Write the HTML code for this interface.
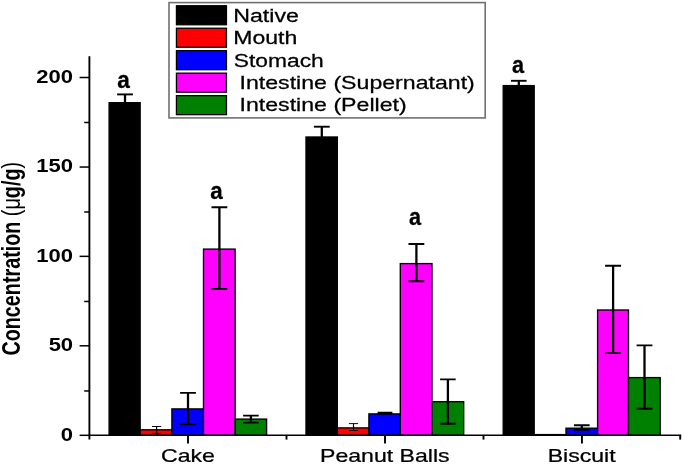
<!DOCTYPE html>
<html><head><meta charset="utf-8"><style>
html,body{margin:0;padding:0;background:#fff;width:685px;height:467px;overflow:hidden}
svg{display:block;will-change:transform;font-family:"Liberation Sans",sans-serif}
</style></head><body>
<svg width="685" height="467" viewBox="0 0 685 467">
<rect width="685" height="467" fill="#fff"/>
<rect x="169.0" y="2.6" width="316.2" height="115.3" fill="none" stroke="#707070" stroke-width="1.6"/>
<rect x="176.45" y="5.75" width="50" height="19" fill="#000000" stroke="#000" stroke-width="1.3"/>
<rect x="176.45" y="28.23" width="50" height="19" fill="#ff0000" stroke="#000" stroke-width="1.3"/>
<rect x="176.45" y="50.7" width="50" height="19" fill="#0000ff" stroke="#000" stroke-width="1.3"/>
<rect x="176.45" y="73.18" width="50" height="19" fill="#ff00ff" stroke="#000" stroke-width="1.3"/>
<rect x="176.45" y="95.65" width="50" height="19" fill="#008000" stroke="#000" stroke-width="1.3"/>
<text transform="translate(233.25,21.7) scale(1.287,1.0)" font-size="18" font-weight="normal" stroke="#000" stroke-width="0.25">Native</text>
<text transform="translate(233.26,43.95) scale(1.28,1.0)" font-size="18" font-weight="normal" stroke="#000" stroke-width="0.25">Mouth</text>
<text transform="translate(233.77,66.8) scale(1.268,1.0)" font-size="18" font-weight="normal" stroke="#000" stroke-width="0.25">Stomach</text>
<text transform="translate(239.52,88.75) scale(1.286,1.0)" font-size="18" font-weight="normal" stroke="#000" stroke-width="0.25">Intestine (Supernatant)</text>
<text transform="translate(239.52,111.1) scale(1.286,1.0)" font-size="18" font-weight="normal" stroke="#000" stroke-width="0.25">Intestine (Pellet)</text>
<rect x="109.1" y="102.7" width="31.05" height="332.6" fill="#000000" stroke="#000" stroke-width="1.35"/>
<rect x="140.15" y="429.8" width="31.75" height="5.5" fill="#ff0000" stroke="#000" stroke-width="1.35"/>
<rect x="171.9" y="408.9" width="31.6" height="26.4" fill="#0000ff" stroke="#000" stroke-width="1.35"/>
<rect x="203.5" y="249.1" width="31.6" height="186.2" fill="#ff00ff" stroke="#000" stroke-width="1.35"/>
<rect x="235.1" y="419.1" width="31.5" height="16.2" fill="#008000" stroke="#000" stroke-width="1.35"/>
<path d="M125 94.4V114.4" stroke="#000" stroke-width="2.28" fill="none"/>
<path d="M117.1 94.4H132.9" stroke="#000" stroke-width="1.9" fill="none"/>
<path d="M156.6 426.5V433.4" stroke="#000" stroke-width="1.14" fill="none"/>
<path d="M152 426.5H161.2M152 433.4H161.2" stroke="#000" stroke-width="0.95" fill="none"/>
<path d="M188 392.9V424.2" stroke="#000" stroke-width="2.28" fill="none"/>
<path d="M180.1 392.9H195.9M180.1 424.2H195.9" stroke="#000" stroke-width="1.9" fill="none"/>
<path d="M219.4 207.2V288.9" stroke="#000" stroke-width="2.28" fill="none"/>
<path d="M211.5 207.2H227.3M211.5 288.9H227.3" stroke="#000" stroke-width="1.9" fill="none"/>
<path d="M250.9 415.6V422.6" stroke="#000" stroke-width="2.28" fill="none"/>
<path d="M243.1 415.6H258.7M243.1 422.6H258.7" stroke="#000" stroke-width="1.9" fill="none"/>
<rect x="306" y="137" width="31.3" height="298.3" fill="#000000" stroke="#000" stroke-width="1.35"/>
<rect x="337.3" y="427.9" width="31.6" height="7.4" fill="#ff0000" stroke="#000" stroke-width="1.35"/>
<rect x="368.9" y="413.9" width="31.4" height="21.4" fill="#0000ff" stroke="#000" stroke-width="1.35"/>
<rect x="400.3" y="263.6" width="31.7" height="171.7" fill="#ff00ff" stroke="#000" stroke-width="1.35"/>
<rect x="432" y="401.7" width="31.7" height="33.6" fill="#008000" stroke="#000" stroke-width="1.35"/>
<path d="M321.8 126.7V146.7" stroke="#000" stroke-width="2.28" fill="none"/>
<path d="M313.9 126.7H329.7" stroke="#000" stroke-width="1.9" fill="none"/>
<path d="M353.5 423.6V430.5" stroke="#000" stroke-width="1.14" fill="none"/>
<path d="M348.9 423.6H358.1M348.9 430.5H358.1" stroke="#000" stroke-width="0.95" fill="none"/>
<path d="M385 412.6V413.6" stroke="#000" stroke-width="2.28" fill="none"/>
<path d="M377.6 412.6H392.4M377.6 413.6H392.4" stroke="#000" stroke-width="1.9" fill="none"/>
<path d="M416.4 244V281.2" stroke="#000" stroke-width="2.28" fill="none"/>
<path d="M408.5 244H424.3M408.5 281.2H424.3" stroke="#000" stroke-width="1.9" fill="none"/>
<path d="M447.9 379.4V423.8" stroke="#000" stroke-width="2.28" fill="none"/>
<path d="M440.1 379.4H455.7M440.1 423.8H455.7" stroke="#000" stroke-width="1.9" fill="none"/>
<rect x="503.2" y="85.6" width="31" height="349.7" fill="#000000" stroke="#000" stroke-width="1.35"/>
<rect x="534.2" y="434.6" width="31.8" height="0.7" fill="#ff0000" stroke="#000" stroke-width="1.35"/>
<rect x="566" y="428.2" width="31.6" height="7.1" fill="#0000ff" stroke="#000" stroke-width="1.35"/>
<rect x="597.6" y="310" width="30.9" height="125.3" fill="#ff00ff" stroke="#000" stroke-width="1.35"/>
<rect x="628.5" y="377.6" width="31.7" height="57.7" fill="#008000" stroke="#000" stroke-width="1.35"/>
<path d="M518.8 80.8V100.8" stroke="#000" stroke-width="2.28" fill="none"/>
<path d="M511 80.8H526.6" stroke="#000" stroke-width="1.9" fill="none"/>
<path d="M581.8 425.2V429.9" stroke="#000" stroke-width="2.28" fill="none"/>
<path d="M574 425.2H589.6M574 429.9H589.6" stroke="#000" stroke-width="1.9" fill="none"/>
<path d="M613.1 265.7V353.1" stroke="#000" stroke-width="2.28" fill="none"/>
<path d="M605.1 265.7H621.1M605.1 353.1H621.1" stroke="#000" stroke-width="1.9" fill="none"/>
<path d="M644.5 345.4V408.8" stroke="#000" stroke-width="2.28" fill="none"/>
<path d="M636.6 345.4H652.4M636.6 408.8H652.4" stroke="#000" stroke-width="1.9" fill="none"/>
<path d="M89.4 56.2V439.6" stroke="#000" stroke-width="1.9" fill="none"/>
<path d="M89.4 435.3H681.2" stroke="#000" stroke-width="1.5" fill="none"/>
<path d="M79.6 435.3H89.4" stroke="#000" stroke-width="1.5" fill="none"/>
<path d="M79.6 345.8H89.4" stroke="#000" stroke-width="1.5" fill="none"/>
<path d="M79.6 256.35H89.4" stroke="#000" stroke-width="1.5" fill="none"/>
<path d="M79.6 167.05H89.4" stroke="#000" stroke-width="1.5" fill="none"/>
<path d="M79.6 77.5H89.4" stroke="#000" stroke-width="1.5" fill="none"/>
<path d="M84.2 390.96H89.4" stroke="#000" stroke-width="1.5" fill="none"/>
<path d="M84.2 301.47H89.4" stroke="#000" stroke-width="1.5" fill="none"/>
<path d="M84.2 211.98H89.4" stroke="#000" stroke-width="1.5" fill="none"/>
<path d="M84.2 122.49H89.4" stroke="#000" stroke-width="1.5" fill="none"/>
<path d="M188 435.3V443.4" stroke="#000" stroke-width="1.9" fill="none"/>
<path d="M385 435.3V443.4" stroke="#000" stroke-width="1.9" fill="none"/>
<path d="M581.95 435.3V443.4" stroke="#000" stroke-width="1.9" fill="none"/>
<path d="M286.5 435.3V439.6" stroke="#000" stroke-width="1.9" fill="none"/>
<path d="M483.5 435.3V439.6" stroke="#000" stroke-width="1.9" fill="none"/>
<path d="M680.2 435.3V439.6" stroke="#000" stroke-width="1.9" fill="none"/>
<text transform="translate(60.86,440.68) scale(1.23,1)" font-size="17.9" font-weight="bold">0</text>
<text transform="translate(48.64,351.18) scale(1.23,1)" font-size="17.9" font-weight="bold">50</text>
<text transform="translate(36.31,261.73) scale(1.23,1)" font-size="17.9" font-weight="bold">100</text>
<text transform="translate(36.31,172.43) scale(1.23,1)" font-size="17.9" font-weight="bold">150</text>
<text transform="translate(36.31,82.88) scale(1.23,1)" font-size="17.9" font-weight="bold">200</text>
<text transform="translate(161.05,462.2) scale(1.283,1.0)" font-size="18" font-weight="normal" stroke="#000" stroke-width="0.25">Cake</text>
<text transform="translate(320.05,462.2) scale(1.283,1.0)" font-size="18" font-weight="normal" stroke="#000" stroke-width="0.25">Peanut Balls</text>
<text transform="translate(547.65,462.2) scale(1.283,1.0)" font-size="18" font-weight="normal" stroke="#000" stroke-width="0.25">Biscuit</text>
<text transform="translate(117.22,88.45) scale(0.928,1.013)" font-size="24.4" font-weight="bold" stroke="#000" stroke-width="0.3">a</text>
<text transform="translate(210.33,198.56) scale(0.920,1.002)" font-size="24.4" font-weight="bold" stroke="#000" stroke-width="0.3">a</text>
<text transform="translate(409.05,225.06) scale(0.889,1.002)" font-size="24.4" font-weight="bold" stroke="#000" stroke-width="0.3">a</text>
<text transform="translate(512.05,72.96) scale(0.889,0.999)" font-size="24.4" font-weight="bold" stroke="#000" stroke-width="0.3">a</text>
<text transform="translate(20.0,355.6) scale(1.307,1) rotate(-90)" font-size="19.77"><tspan font-weight="bold">Concentration </tspan><tspan>(μ</tspan><tspan font-weight="bold">g/g</tspan><tspan>)</tspan></text>
</svg>
</body></html>
